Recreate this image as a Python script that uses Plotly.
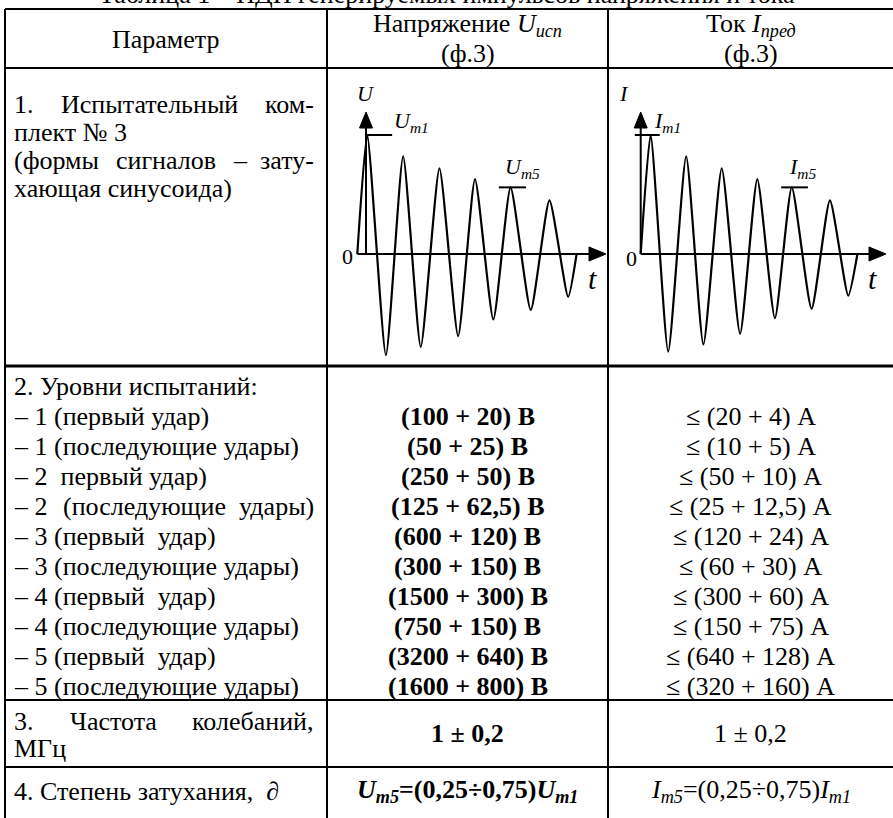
import plotly.graph_objects as go

W, H = 893, 818
FONT = "Liberation Serif, Times New Roman, serif"

# ---------------- data ----------------
title_text = "Таблица 1 – НДП генерируемых импульсов напряжения и тока"
header_param = "Параметр"
header_u = ["Напряжение <i>U<sub>исп</sub></i>", "(ф.3)"]
header_i = ["Ток <i>I<sub>пред</sub></i>", "(ф.3)"]

row1_lines = ["1. Испытательный ком-", "плект № 3", "(формы сигналов – зату-", "хающая синусоида)"]
row1_justify = [True, False, True, False]

row2_title = "2. Уровни испытаний:"
level_labels = [
    "– 1 (первый удар)",
    "– 1 (последующие удары)",
    "– 2\u00a0\u00a0первый удар)",
    "– 2 (последующие удары)",
    "– 3 (первый\u00a0\u00a0удар)",
    "– 3 (последующие удары)",
    "– 4 (первый\u00a0\u00a0удар)",
    "– 4 (последующие удары)",
    "– 5 (первый\u00a0\u00a0удар)",
    "– 5 (последующие удары)",
]
level_justify = [False, False, False, True, False, False, False, False, False, False]
voltage_values = ["(100 + 20) В", "(50 + 25) В", "(250 + 50) В", "(125 + 62,5) В",
                  "(600 + 120) В", "(300 + 150) В", "(1500 + 300) В", "(750 + 150) В",
                  "(3200 + 640) В", "(1600 + 800) В"]
current_values = ["≤ (20 + 4) А", "≤ (10 + 5) А", "≤ (50 + 10) А", "≤ (25 + 12,5) А",
                  "≤ (120 + 24) А", "≤ (60 + 30) А", "≤ (300 + 60) А", "≤ (150 + 75) А",
                  "≤ (640 + 128) А", "≤ (320 + 160) А"]

row3_lines = ["3. Частота колебаний,", "МГц"]
row3_u = "1 ± 0,2"
row3_i = "1 ± 0,2"
row4_label = "4. Степень затухания,\u00a0\u00a0<i>∂</i>"
row4_u = "<i>U<sub>m5</sub></i>=(0,25÷0,75)<i>U<sub>m1</sub></i>"
row4_i = "<i>I<sub>m5</sub></i>=(0,25÷0,75)<i>I<sub>m1</sub></i>"

# damped oscillation, extremes (time in µs, amplitude / first peak)
wave_u_t = [0, 0.27, 0.78, 1.25, 1.73, 2.24, 2.75, 3.21, 3.71, 4.18, 4.73, 5.24, 5.75, 5.98]
wave_u = [0, 1.0, -0.85, 0.82, -0.78, 0.72, -0.69, 0.63, -0.55, 0.56, -0.47, 0.45, -0.36, 0]
wave_i_t = [0, 0.27, 0.75, 1.24, 1.71, 2.21, 2.71, 3.18, 3.66, 4.12, 4.66, 5.16, 5.66, 5.91]
wave_i = [0, 1.0, -0.82, 0.82, -0.76, 0.72, -0.67, 0.63, -0.54, 0.56, -0.46, 0.45, -0.35, 0]

# ---------------- layout constants (pixels) ----------------
X_L, X_C1, X_C2 = 5, 327, 608
Y_TOP, Y_H, Y_R1, Y_R2, Y_R3 = 9, 68, 366, 700, 767
TXT_L, TXT_R = 12, 316
FS = 26
LINE = 30

PX_PER_US = 36.67
PX_PER_AMP = 119.0
ZERO_Y = 254
U_T0_X = 357.3
I_T0_X = 640.7
G_TOP, G_BOT = 88, 362

CW = {' ': .25, '\u00a0': .25, '.': .25, ',': .25, '(': .333, ')': .333, '-': .333, '–': .5, '№': .93,
      'а': .444, 'б': .5, 'в': .472, 'г': .41, 'д': .5, 'е': .444, 'ж': .69, 'з': .395, 'и': .535,
      'й': .535, 'к': .486, 'л': .5, 'м': .62, 'н': .535, 'о': .5, 'п': .535, 'р': .5, 'с': .444,
      'т': .437, 'у': .5, 'ф': .648, 'х': .5, 'ц': .535, 'ч': .5, 'ш': .77, 'щ': .77, 'ы': .69,
      'ь': .46, 'э': .444, 'ю': .73, 'я': .5, 'И': .722, 'Ч': .667, 'М': .889, 'Г': .61}


def wid(s, size=FS):
    return sum(CW.get(c, 0.5) for c in s) * size


annotations = []


def txt(x, y, s, anchor="left", size=FS, yanchor="middle"):
    annotations.append(dict(x=x, y=y, xref="x", yref="y", text=s, showarrow=False,
                            xanchor=anchor, yanchor=yanchor,
                            font=dict(family=FONT, size=size, color="black")))


def justify(line, y):
    words = line.split(" ")
    if line.startswith("– "):
        words = [words[0] + " " + words[1]] + words[2:]
    total = sum(wid(w) for w in words)
    gap = (TXT_R - TXT_L - total) / (len(words) - 1)
    x = TXT_L
    for k, w in enumerate(words):
        if k == len(words) - 1:
            txt(TXT_R, y, w, "right")
        else:
            txt(x, y, w, "left")
        x += wid(w) + gap


def put(line, y, just):
    if just:
        justify(line, y)
    else:
        txt(TXT_L, y, line, "left")


cu = (X_C1 + X_C2) / 2
ci = (X_C2 + W) / 2

# title (cut by the top edge)
txt(W / 2, 11, title_text, "center", yanchor="bottom")
# header
txt((X_L + X_C1) / 2, 39, header_param, "center")
txt(cu, 25, header_u[0], "center")
txt(cu, 53, header_u[1], "center")
txt(ci, 25, header_i[0], "center")
txt(ci, 53, header_i[1], "center")

# row 1
for k, (line, j) in enumerate(zip(row1_lines, row1_justify)):
    put(line, 104 + 28 * k, j)

# row 2
y0 = 386
txt(TXT_L, y0, row2_title)
for k, (lab, j, vu, vi) in enumerate(zip(level_labels, level_justify, voltage_values, current_values)):
    y = y0 + LINE * (k + 1)
    put(lab, y, j)
    txt(cu, y, "<b>" + vu + "</b>", "center")
    txt(ci, y, vi, "center")

# row 3
put(row3_lines[0], 721, True)
put(row3_lines[1], 748, False)
txt(cu, 733, "<b>" + row3_u + "</b>", "center")
txt(ci, 733, row3_i, "center")

# row 4
txt(TXT_L, 791, row4_label)
txt(cu, 791, "<b>" + row4_u + "</b>", "center")
txt(ci, 791, row4_i, "center")

# graph labels
LS = 22
txt(366, 93, "<i>U</i>", "center", size=LS)
txt(392, 122, "<i>U<sub>m1</sub></i>", "left", size=LS)
txt(503, 168, "<i>U<sub>m5</sub></i>", "left", size=LS)
txt(347, 256, "0", "center", size=LS)
txt(592, 278, "<i>t</i>", "center", size=30)
txt(624, 93, "<i>I</i>", "center", size=LS)
txt(652, 122, "<i>I<sub>m1</sub></i>", "left", size=LS)
txt(787, 168, "<i>I<sub>m5</sub></i>", "left", size=LS)
txt(631, 258, "0", "center", size=LS)
txt(872, 278, "<i>t</i>", "center", size=30)

# ---------------- shapes ----------------
shapes = []


def seg(x0, y0_, x1, y1, w=2, xref="x", yref="y"):
    shapes.append(dict(type="line", x0=x0, y0=y0_, x1=x1, y1=y1, xref=xref, yref=yref,
                       line=dict(color="black", width=w)))


def tri(path):
    shapes.append(dict(type="path", path=path, xref="x", yref="y",
                       fillcolor="black", line=dict(color="black", width=1)))


# table grid
for yy, w in [(Y_TOP, 2), (Y_H, 2), (Y_R1, 3), (Y_R2, 2), (Y_R3, 2)]:
    seg(X_L, yy, W + 2, yy, w)
for xx in [X_L, X_C1, X_C2]:
    seg(xx, Y_TOP, xx, H + 2, 2)

# axes of the two diagrams
for ax_x, start_x, tip_x in [(366, 357.3, 606), (640.7, 640.7, 886)]:
    seg(ax_x, ZERO_Y, ax_x, 126, 2)
    seg(start_x, ZERO_Y, tip_x - 14, ZERO_Y, 2)
    tri(f"M {ax_x - 6.5} 128 L {ax_x} 112 L {ax_x + 6.5} 128 Z")
    tri(f"M {tip_x - 17} {ZERO_Y - 7} L {tip_x} {ZERO_Y} L {tip_x - 17} {ZERO_Y + 7} Z")

# amplitude markers, placed on the diagram axes
seg(wave_u_t[1], wave_u[1], wave_u_t[1] + 0.68, wave_u[1], 2, "x2", "y2")
seg(wave_u_t[9] - 0.32, wave_u[9], wave_u_t[9] + 0.42, wave_u[9], 2, "x2", "y2")
seg(wave_i_t[1] - 0.43, wave_i[1], wave_i_t[1] + 0.25, wave_i[1], 2, "x3", "y3")
seg(wave_i_t[9] - 0.29, wave_i[9], wave_i_t[9] + 0.44, wave_i[9], 2, "x3", "y3")

# ---------------- figure ----------------
fig = go.Figure()
fig.add_trace(go.Scatter(x=[0], y=[0], mode="markers", marker=dict(opacity=0),
                         hoverinfo="skip", xaxis="x", yaxis="y"))
fig.add_trace(go.Scatter(x=wave_u_t, y=wave_u, mode="lines", xaxis="x2", yaxis="y2",
                         line=dict(color="black", width=2.2, shape="spline", smoothing=0.55),
                         hoverinfo="skip"))
fig.add_trace(go.Scatter(x=wave_i_t, y=wave_i, mode="lines", xaxis="x3", yaxis="y3",
                         line=dict(color="black", width=2.2, shape="spline", smoothing=0.55),
                         hoverinfo="skip"))


def xr(px0, px1, t0x):
    return [(px0 - t0x) / PX_PER_US, (px1 - t0x) / PX_PER_US]


yr = [(ZERO_Y - G_BOT) / PX_PER_AMP, (ZERO_Y - G_TOP) / PX_PER_AMP]
ydom = [1 - G_BOT / H, 1 - G_TOP / H]
hid = dict(visible=False, fixedrange=True)

fig.update_layout(
    width=W, height=H, autosize=False,
    margin=dict(l=0, r=0, t=0, b=0),
    paper_bgcolor="white", plot_bgcolor="rgba(0,0,0,0)",
    showlegend=False,
    xaxis=dict(domain=[0, 1], range=[0, W], **hid),
    yaxis=dict(domain=[0, 1], range=[H, 0], **hid),
    xaxis2=dict(domain=[330 / W, 606 / W], range=xr(330, 606, U_T0_X), anchor="y2", **hid),
    yaxis2=dict(domain=ydom, range=yr, anchor="x2", **hid),
    xaxis3=dict(domain=[612 / W, 888 / W], range=xr(612, 888, I_T0_X), anchor="y3", **hid),
    yaxis3=dict(domain=ydom, range=yr, anchor="x3", **hid),
    shapes=shapes,
    annotations=annotations,
)

fig.write_html("out.html", config={"displayModeBar": False},
               post_script="document.body.style.margin='0';document.body.style.overflow='hidden';")
